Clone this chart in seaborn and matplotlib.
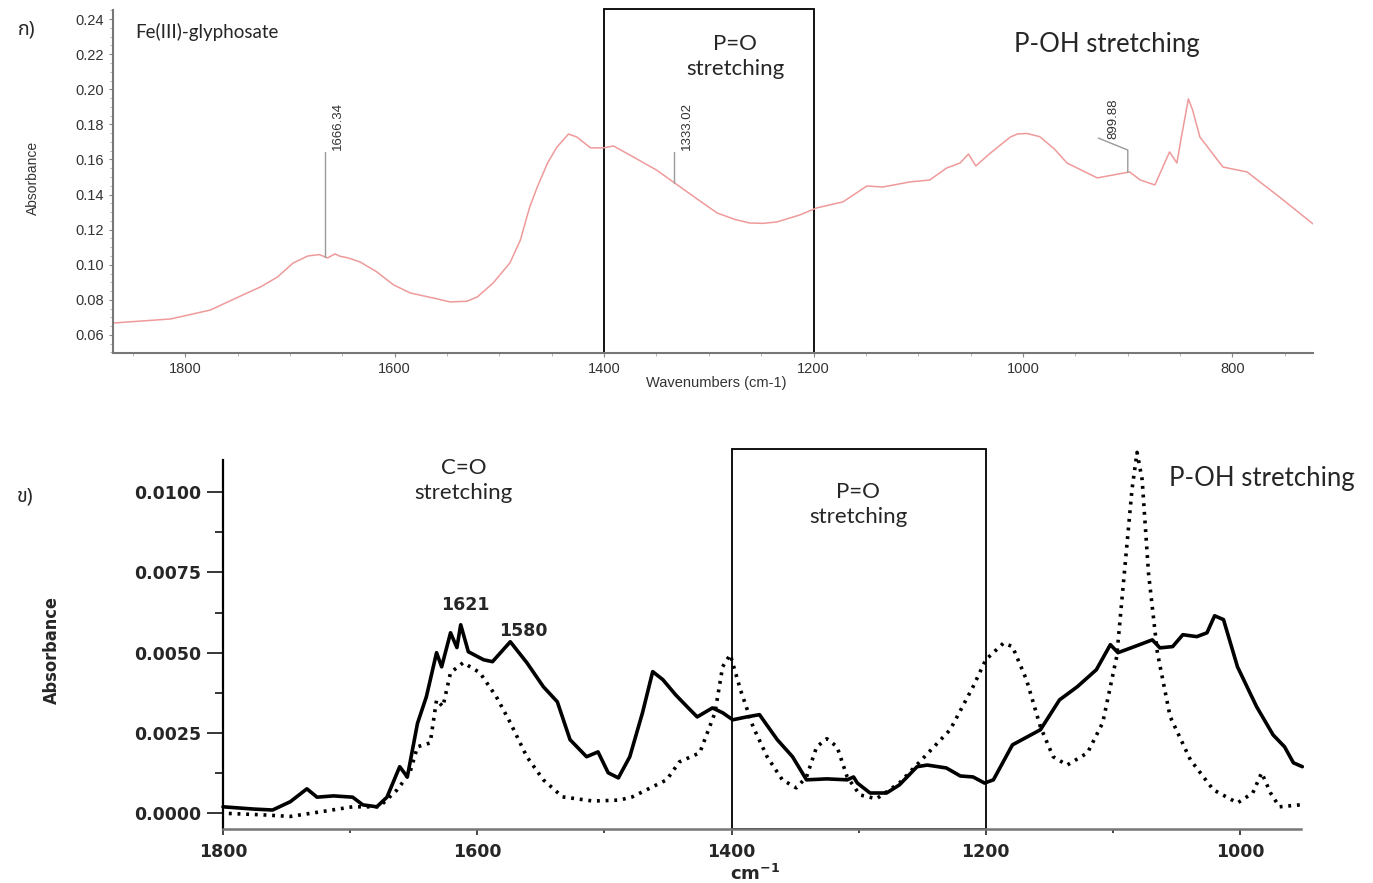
import matplotlib
matplotlib.use("Agg")
import matplotlib.pyplot as plt
from matplotlib.patches import Rectangle
from matplotlib.ticker import MultipleLocator, FormatStrFormatter
import numpy as np
import seaborn as sns

# top panel: Fe(III)-glyphosate spectrum
top_wn = [1869, 1814, 1776, 1745, 1728, 1712, 1697, 1683, 1672, 1664, 1657, 1652, 1645, 1633,
          1617, 1601, 1585, 1572, 1559, 1547, 1531, 1521, 1506, 1490, 1480, 1471, 1464, 1454,
          1445, 1434, 1426, 1413, 1401, 1391, 1372, 1350, 1330, 1310, 1292, 1275, 1261, 1248,
          1235, 1213, 1197, 1172, 1149, 1134, 1108, 1089, 1073, 1060, 1052, 1045, 1031, 1012,
          1005, 996, 984, 970, 958, 929, 898, 888, 874, 860, 853, 848, 842, 838, 831, 809, 786,
          755, 723]
top_abs = [0.0668, 0.0691, 0.0742, 0.0828, 0.0874, 0.0930, 0.1010, 0.1050, 0.1058, 0.1039, 0.1062,
           0.1048, 0.1040, 0.1016, 0.0959, 0.0885, 0.0839, 0.0822, 0.0805, 0.0788, 0.0792, 0.0817,
           0.0896, 0.1010, 0.1140, 0.1330, 0.1440, 0.1580, 0.1671, 0.1745, 0.1728, 0.1666, 0.1666,
           0.1677, 0.1614, 0.1540, 0.1455, 0.1370, 0.1295, 0.1258, 0.1238, 0.1236, 0.1244, 0.1284,
           0.1324, 0.1358, 0.1449, 0.1443, 0.1472, 0.1483, 0.1551, 0.1580, 0.1631, 0.1563, 0.1637,
           0.1728, 0.1746, 0.1748, 0.1730, 0.1660, 0.1580, 0.1495, 0.1529, 0.1483, 0.1455, 0.1643,
           0.1580, 0.1751, 0.1945, 0.1882, 0.1728, 0.1557, 0.1529, 0.1386, 0.1233]
top_peaks = [1666.34, 1333.02, 899.88]
top_peak_labels = ["1666.34", "1333.02", "899.88"]

# bottom panel: two spectra (solid and dotted)
solid_wn = [1800, 1776, 1761, 1747, 1734, 1726, 1713, 1698, 1690, 1679, 1671, 1661, 1655, 1647,
            1640, 1632, 1628, 1621, 1616, 1613, 1607, 1595, 1588, 1574, 1561, 1548, 1537, 1527,
            1514, 1505, 1497, 1489, 1480, 1470, 1462, 1454, 1444, 1434, 1427, 1415, 1407, 1399,
            1388, 1378, 1364, 1352, 1341, 1325, 1309, 1304, 1301, 1291, 1278, 1268, 1254, 1246,
            1231, 1220, 1210, 1201, 1194, 1179, 1157, 1142, 1128, 1113, 1102, 1096, 1081, 1069,
            1063, 1053, 1045, 1034, 1026, 1020, 1013, 1002, 987, 974, 965, 958, 951]
solid_abs = [0.00020, 0.00013, 0.00010, 0.00036, 0.00076, 0.00050, 0.00054, 0.00050, 0.00026,
             0.00020, 0.00050, 0.00145, 0.00113, 0.00280, 0.00363, 0.00500, 0.00456, 0.00562,
             0.00516, 0.00587, 0.00503, 0.00478, 0.00472, 0.00534, 0.00469, 0.00394, 0.00347,
             0.00229, 0.00176, 0.00191, 0.00126, 0.00110, 0.00176, 0.00313, 0.00441, 0.00416,
             0.00369, 0.00328, 0.00300, 0.00328, 0.00313, 0.00291, 0.00300, 0.00307, 0.00229,
             0.00176, 0.00104, 0.00107, 0.00104, 0.00113, 0.00094, 0.00063, 0.00063, 0.00088,
             0.00145, 0.00150, 0.00141, 0.00116, 0.00113, 0.00094, 0.00104, 0.00213, 0.00260,
             0.00353, 0.00394, 0.00447, 0.00525, 0.00500, 0.00522, 0.00540, 0.00515, 0.00519,
             0.00556, 0.00550, 0.00562, 0.00615, 0.00603, 0.00456, 0.00332, 0.00244, 0.00207,
             0.00157, 0.00145]
dotted_wn = [1800, 1769, 1747, 1724, 1698, 1677, 1663, 1653, 1647, 1637, 1632, 1627, 1621, 1611,
             1598, 1585, 1574, 1561, 1548, 1533, 1509, 1488, 1478, 1451, 1441, 1425, 1413, 1407,
             1401, 1393, 1383, 1372, 1360, 1349, 1341, 1333, 1325, 1317, 1309, 1299, 1286, 1268,
             1252, 1228, 1210, 1200, 1186, 1179, 1168, 1157, 1147, 1136, 1120, 1108, 1097, 1091,
             1085, 1081, 1077, 1072, 1065, 1055, 1039, 1021, 1002, 990, 983, 976, 969, 953]
dotted_abs = [0.00000, -0.00005, -0.00010, 0.00004, 0.00020, 0.00020, 0.00073, 0.00126, 0.00207,
              0.00219, 0.00353, 0.00332, 0.00438, 0.00469, 0.00438, 0.00363, 0.00282, 0.00176,
              0.00104, 0.00051, 0.00038, 0.00041, 0.00051, 0.00104, 0.00160, 0.00188, 0.00313,
              0.00456, 0.00494, 0.00385, 0.00269, 0.00176, 0.00104, 0.00079, 0.00113, 0.00207,
              0.00232, 0.00207, 0.00113, 0.00057, 0.00045, 0.00094, 0.00160, 0.00260, 0.00394,
              0.00478, 0.00530, 0.00519, 0.00416, 0.00269, 0.00176, 0.00150, 0.00188, 0.00282,
              0.00488, 0.00748, 0.01008, 0.01124, 0.01039, 0.00748, 0.00500, 0.00301, 0.00166,
              0.00073, 0.00032, 0.00063, 0.00126, 0.00063, 0.00020, 0.00026]

sns.set_style("ticks")
thai = ["Noto Sans Thai", "Loma", "Garuda", "Norasi", "DejaVu Sans"]
note_font = ["Lato", "DejaVu Sans"]

fig = plt.figure(figsize=(13.73, 8.83), dpi=100)

# ---------- top panel ----------
ax1 = fig.add_axes([0.0823, 0.6002, 0.8740, 0.3885])
sns.lineplot(x=top_wn, y=top_abs, ax=ax1, color="#ef9a9a", linewidth=1.1)
ax1.set_xlim(1869, 723)
ax1.set_ylim(0.0497, 0.2452)
ax1.set_xticks([1800, 1600, 1400, 1200, 1000, 800])
ax1.set_yticks(np.arange(0.06, 0.241, 0.02))
ax1.yaxis.set_major_formatter(FormatStrFormatter("%.2f"))
ax1.xaxis.set_minor_locator(MultipleLocator(50))
ax1.yaxis.set_minor_locator(MultipleLocator(0.005))
for side in ["top", "right"]:
    ax1.spines[side].set_visible(False)
for side in ["left", "bottom"]:
    ax1.spines[side].set_color("#777777")
    ax1.spines[side].set_linewidth(1.5)
ax1.tick_params(which="major", length=3, color="#888888", labelsize=10.5,
                labelcolor="#333333", labelfontfamily="Liberation Sans")
ax1.tick_params(which="minor", length=2, color="#aaaaaa")
ax1.set_ylabel("Absorbance", fontsize=10, family="Liberation Sans", color="#333333")
ax1.yaxis.set_label_coords(-0.061, 0.51)
ax1.set_xlabel("Wavenumbers (cm-1)", fontsize=10.5, family="Liberation Sans", color="#333333")
ax1.xaxis.set_label_coords(0.503, -0.068)

ax1.add_patch(Rectangle((1200, 0), 200, 1.002, transform=ax1.get_xaxis_transform(),
                        fill=False, edgecolor="black", linewidth=1.3, clip_on=False))

# peak markers
wn_up = top_wn[::-1]
ab_up = top_abs[::-1]
for pk, lab in zip(top_peaks[:2], top_peak_labels[:2]):
    yc = np.interp(pk, wn_up, ab_up)
    ax1.plot([pk, pk], [yc, 0.1640], color="#999999", linewidth=1)
    ax1.text(pk - 12, 0.1655, lab, rotation=90, ha="center", va="bottom",
             fontsize=9.5, family="Liberation Sans", color="#333333")
pk = top_peaks[2]
yc = np.interp(pk, wn_up, ab_up)
ax1.plot([pk, pk, 928], [yc, 0.1654, 0.1722], color="#999999", linewidth=1)
ax1.text(914, 0.1718, top_peak_labels[2], rotation=90, ha="center", va="bottom",
         fontsize=9.5, family="Liberation Sans", color="#333333")

ax1.text(1848, 0.2327, "Fe(III)-glyphosate", ha="left", va="center", fontsize=13.5,
         family=note_font)
ax1.text(1275, 0.2185, "P=O\nstretching", ha="center", va="center", fontsize=16,
         family=note_font, linespacing=1.3)
ax1.text(920, 0.2253, "P-OH stretching", ha="center", va="center", fontsize=18.5,
         family=note_font)
fig.text(18 / 1373, 1 - 30 / 883, "ก)", ha="left", va="center", fontsize=14, family=thai)

# ---------- bottom panel ----------
ax2 = fig.add_axes([0.1624, 0.0612, 0.7852, 0.4178])
sns.lineplot(x=solid_wn, y=solid_abs, ax=ax2, color="black", linewidth=2.6)
sns.lineplot(x=dotted_wn, y=dotted_abs, ax=ax2, color="black", linewidth=2.6,
             linestyle=(0, (0.8, 1.6)))
for ln in ax2.lines:
    ln.set_clip_on(False)
ax2.set_xlim(1800, 952)
ax2.set_ylim(-0.00049, 0.0110)
ax2.set_xticks([1800, 1600, 1400, 1200, 1000])
ax2.set_yticks([0.0, 0.0025, 0.005, 0.0075, 0.01])
ax2.set_yticklabels(["0.0000", "0.0025", "0.0050", "0.0075", "0.0100"])
ax2.xaxis.set_minor_locator(MultipleLocator(100))
ax2.yaxis.set_minor_locator(MultipleLocator(0.00125))
for side in ["top", "right"]:
    ax2.spines[side].set_visible(False)
ax2.spines["left"].set_color("black")
ax2.spines["left"].set_linewidth(1.6)
ax2.spines["bottom"].set_color("#777777")
ax2.spines["bottom"].set_linewidth(1.8)
ax2.tick_params(axis="y", which="major", length=11.5, width=1.3, labelsize=12.5, pad=4)
ax2.tick_params(axis="y", which="minor", length=6, width=1.3)
ax2.tick_params(axis="x", which="major", length=4, width=1.2, labelsize=12.5, pad=6)
ax2.tick_params(axis="x", which="minor", length=3, width=1.2)
for lab in ax2.get_xticklabels() + ax2.get_yticklabels():
    lab.set_fontweight("bold")
ax2.set_ylabel("Absorbance", fontsize=13, fontweight="bold", fontstretch="condensed",
               family=["Liberation Sans Narrow", "DejaVu Sans"])
ax2.yaxis.set_label_coords(-0.150, 0.485)
ax2.set_xlabel(r"$\mathbf{cm^{-1}}$", fontsize=13)
ax2.xaxis.set_label_coords(0.4935, -0.095)

ax2.add_patch(Rectangle((1200, 0), 200, 1.03, transform=ax2.get_xaxis_transform(),
                        fill=False, edgecolor="black", linewidth=1.3, clip_on=False))

ax2.text(1611, 0.01036, "C=O\nstretching", ha="center", va="center", fontsize=16,
         family=note_font, linespacing=1.35)
ax2.text(1300.5, 0.00962, "P=O\nstretching", ha="center", va="center", fontsize=16,
         family=note_font, linespacing=1.35)
ax2.text(982.7, 0.01043, "P-OH stretching", ha="center", va="center", fontsize=18.5,
         family=note_font)
ax2.text(1609.6, 0.0065, "1621", ha="center", va="center", fontsize=12.5, fontweight="bold")
ax2.text(1564, 0.00569, "1580", ha="center", va="center", fontsize=12.5, fontweight="bold")
fig.text(25 / 1373, 1 - 496 / 883, "ข)", ha="center", va="center", fontsize=14, family=thai)

fig.savefig("out.png", dpi=100)
